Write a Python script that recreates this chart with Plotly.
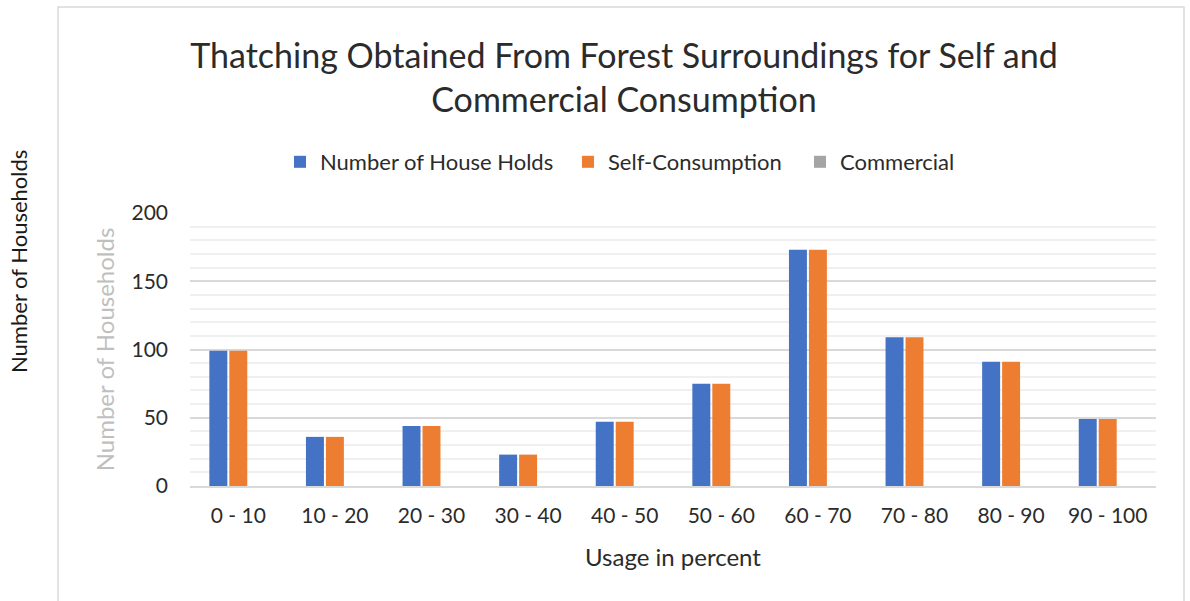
import plotly.graph_objects as go

# Usage bands and household counts
categories = ["0 - 10", "10 - 20", "20 - 30", "30 - 40", "40 - 50",
              "50 - 60", "60 - 70", "70 - 80", "80 - 90", "90 - 100"]
house_holds = [99, 36, 44, 23, 47, 75, 173, 109, 91, 49]
self_consumption = [99, 36, 44, 23, 47, 75, 173, 109, 91, 49]
commercial = [0, 0, 0, 0, 0, 0, 0, 0, 0, 0]

series_names = ["Number of House Holds", "Self-Consumption", "Commercial"]
series_colors = ["#4472C4", "#ED7D31", "#A5A5A5"]

W, H = 1190, 601
L, R, T, B = 190, 1156, 213, 486  # plot area in pixels

FONT = "Lato"
TXT = "#2b2b2b"


def px_x(x):
    return (x - L) / (R - L)


def px_y(y):
    return (B - y) / (B - T)


# each series gets its own legend box so the entries can be spaced freely
legend_refs = ["legend", "legend2", "legend3"]
legend_left = [280, 568, 800]

fig = go.Figure()
for name, vals, col, lg in zip(series_names, [house_holds, self_consumption, commercial],
                               series_colors, legend_refs):
    fig.add_trace(go.Bar(name=name, x=categories, y=vals, legend=lg, showlegend=True,
                         marker=dict(color=col, line=dict(width=0))))

legend_style = dict(orientation="h", yanchor="middle", y=px_y(162), xanchor="left",
                    font=dict(family=FONT, size=22, color=TXT), itemwidth=30,
                    bgcolor="rgba(0,0,0,0)")

fig.update_layout(
    width=W, height=H,
    margin=dict(l=L, r=W - R, t=T, b=H - B, pad=0),
    paper_bgcolor="white", plot_bgcolor="white",
    showlegend=True,
    barmode="group", bargap=0.38, bargroupgap=0.1,
    font=dict(family=FONT, color=TXT),
    title=dict(
        text="Thatching Obtained From Forest Surroundings for Self and<br>Commercial Consumption",
        x=px_x(624), xref="paper", xanchor="center",
        y=1 - 67.5 / H, yref="container", yanchor="middle",
        font=dict(family=FONT, size=34, color=TXT),
    ),
    legend=dict(legend_style, x=px_x(legend_left[0])),
    legend2=dict(legend_style, x=px_x(legend_left[1])),
    legend3=dict(legend_style, x=px_x(legend_left[2])),
    xaxis=dict(
        showgrid=False, showline=True, linecolor="#d9d9d9", linewidth=1.5,
        ticks="", tickfont=dict(size=21, color=TXT), ticklabelstandoff=10,
        title=dict(text="Usage in percent", font=dict(size=24, color=TXT), standoff=23),
    ),
    yaxis=dict(
        range=[0, 200], dtick=50, showgrid=True, gridcolor="#d9d9d9", gridwidth=1.5,
        zeroline=False, showline=False, ticks="",
        tickfont=dict(size=21, color=TXT), ticklabelstandoff=21,
        minor=dict(dtick=10, showgrid=True, gridcolor="#f0f0f0", gridwidth=1.5),
        title=dict(text="Number of Households", font=dict(size=24, color="#bfbfbf"), standoff=10),
    ),
    shapes=[
        dict(type="rect", xref="paper", yref="paper",
             x0=px_x(58), x1=px_x(1184), y0=px_y(620), y1=px_y(7),
             line=dict(color="#d9d9d9", width=1.5), fillcolor="rgba(0,0,0,0)", layer="below"),
    ],
    annotations=[
        dict(text="Number of Households", xref="paper", yref="paper",
             x=px_x(18), y=px_y(262), xanchor="center", yanchor="middle",
             textangle=-90, showarrow=False,
             font=dict(family=FONT, size=22, color="#1a1a1a")),
    ],
)

fig.write_html("out.html")
